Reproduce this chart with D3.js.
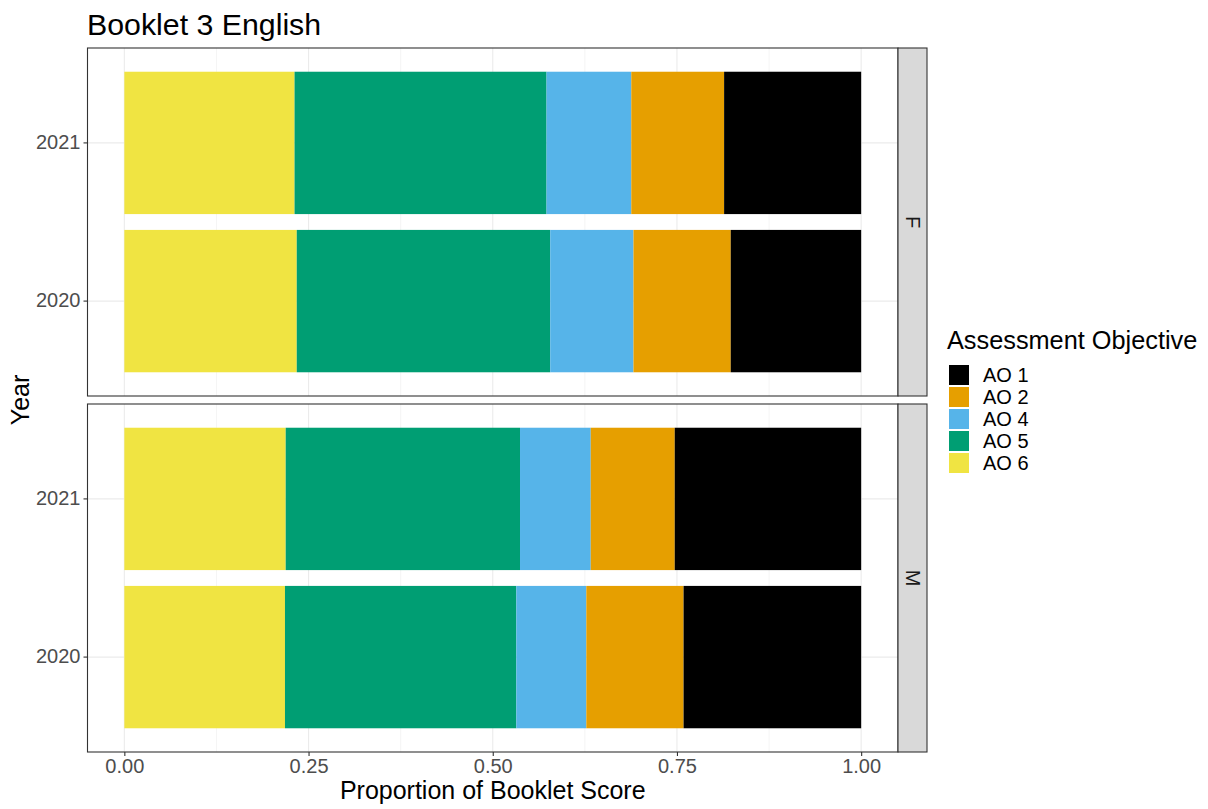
<!DOCTYPE html>
<html>
<head>
<meta charset="utf-8">
<script src="https://cdn.jsdelivr.net/npm/d3@7"></script>
<style>
  html, body { margin: 0; padding: 0; background: #fff; }
  svg { display: block; font-family: "Liberation Sans", Arial, sans-serif; }
</style>
</head>
<body>
<svg id="chart" width="1208" height="809"></svg>
<script>
// ---- data ----
const panels = ["F", "M"];
const years = ["2021", "2020"];
const objectives = ["AO 1", "AO 2", "AO 4", "AO 5", "AO 6"];
const stackOrder = ["AO 6", "AO 5", "AO 4", "AO 2", "AO 1"]; // left to right
const colors = ["#000000", "#E69F00", "#56B4E9", "#009E73", "#F0E442"];
const xTicks = [0, 0.25, 0.5, 0.75, 1];
const xTickLabels = ["0.00", "0.25", "0.50", "0.75", "1.00"];
// proportions per AO (order: AO 1, AO 2, AO 4, AO 5, AO 6)
const F2021 = [0.186, 0.126, 0.115, 0.342, 0.231];
const F2020 = [0.177, 0.132, 0.113, 0.344, 0.234];
const M2021 = [0.253, 0.114, 0.096, 0.318, 0.219];
const M2020 = [0.241, 0.132, 0.095, 0.314, 0.218];
const titleText = "Booklet 3 English";
const xTitle = "Proportion of Booklet Score";
const yTitle = "Year";
const legendTitle = "Assessment Objective";

const dataByPanel = {
  F: { "2021": F2021, "2020": F2020 },
  M: { "2021": M2021, "2020": M2020 }
};

// ---- layout ----
const svg = d3.select("#chart");
const L = 87.5, R = 898, stripW = 29;
const panelTops = [48, 404], panelH = 348;
const color = d3.scaleOrdinal().domain(objectives).range(colors);
const x = d3.scaleLinear().domain([-0.05, 1.05]).range([L, R]);
const minor = [0.125, 0.375, 0.625, 0.875];
const FONT = "Liberation Sans, Arial, sans-serif";

// title
svg.append("text").attr("x", 87).attr("y", 35)
  .attr("font-size", 30.3).attr("fill", "#000").text(titleText);

panels.forEach((p, pi) => {
  const top = panelTops[pi];
  const y = d3.scaleBand().domain(years).range([top, top + panelH])
    .paddingInner(0.1).paddingOuter(0.15);
  const g = svg.append("g");
  g.append("rect").attr("x", L).attr("y", top).attr("width", R - L).attr("height", panelH).attr("fill", "#fff");
  g.selectAll(".mn").data(minor).join("line")
    .attr("x1", d => x(d)).attr("x2", d => x(d)).attr("y1", top).attr("y2", top + panelH)
    .attr("stroke", "#EBEBEB").attr("stroke-width", 0.55);
  g.selectAll(".mj").data(xTicks).join("line")
    .attr("x1", d => x(d)).attr("x2", d => x(d)).attr("y1", top).attr("y2", top + panelH)
    .attr("stroke", "#EBEBEB").attr("stroke-width", 1.1);
  g.selectAll(".hy").data(years).join("line")
    .attr("x1", L).attr("x2", R).attr("y1", d => y(d) + y.bandwidth() / 2).attr("y2", d => y(d) + y.bandwidth() / 2)
    .attr("stroke", "#EBEBEB").attr("stroke-width", 1.1);
  years.forEach(yr => {
    const vals = dataByPanel[p][yr];
    let cum = 0;
    stackOrder.forEach(ao => {
      const v = vals[objectives.indexOf(ao)];
      g.append("rect")
        .attr("x", x(cum)).attr("width", x(cum + v) - x(cum))
        .attr("y", y(yr)).attr("height", y.bandwidth())
        .attr("fill", color(ao));
      cum += v;
    });
  });
  g.append("rect").attr("x", L).attr("y", top).attr("width", R - L).attr("height", panelH)
    .attr("fill", "none").attr("stroke", "#333333").attr("stroke-width", 1.1);
  g.append("rect").attr("x", R).attr("y", top).attr("width", stripW).attr("height", panelH)
    .attr("fill", "#D9D9D9").attr("stroke", "#333333").attr("stroke-width", 1.1);
  g.append("text")
    .attr("transform", `translate(${R + stripW / 2},${top + panelH / 2}) rotate(90)`)
    .attr("text-anchor", "middle").attr("dy", "0.35em")
    .attr("font-size", 20).attr("fill", "#1A1A1A").text(p);
  const ya = g.append("g").attr("transform", `translate(${L},0)`)
    .call(d3.axisLeft(y).tickSize(4).tickPadding(3));
  ya.select(".domain").remove();
  ya.selectAll(".tick line").attr("stroke", "#333333").attr("stroke-width", 1.1);
  ya.selectAll(".tick text").attr("font-size", 20).attr("fill", "#4D4D4D").attr("font-family", FONT);
});

const xa = svg.append("g").attr("transform", `translate(0,${panelTops[1] + panelH})`)
  .call(d3.axisBottom(x).tickValues(xTicks).tickFormat((d, i) => xTickLabels[i]).tickSize(4).tickPadding(3));
xa.select(".domain").remove();
xa.selectAll(".tick line").attr("stroke", "#333333").attr("stroke-width", 1.1);
xa.selectAll(".tick text").attr("font-size", 20).attr("fill", "#4D4D4D").attr("font-family", FONT);

svg.append("text").attr("x", (L + R) / 2).attr("y", 799).attr("text-anchor", "middle")
  .attr("font-size", 25).attr("fill", "#000").text(xTitle);
svg.append("text").attr("transform", `translate(29,${(panelTops[0] + panelTops[1] + panelH) / 2}) rotate(-90)`)
  .attr("text-anchor", "middle").attr("font-size", 25).attr("fill", "#000").text(yTitle);

const lg = svg.append("g");
lg.append("text").attr("x", 947).attr("y", 349).attr("font-size", 25.3).attr("fill", "#000").text(legendTitle);
objectives.forEach((ao, i) => {
  const ky = 365 + i * 22;
  lg.append("rect").attr("x", 949).attr("y", ky).attr("width", 20).attr("height", 20).attr("fill", color(ao));
  lg.append("text").attr("x", 983).attr("y", ky + 10).attr("dy", "0.35em")
    .attr("font-size", 20).attr("fill", "#000").text(ao);
});
</script>
</body>
</html>
